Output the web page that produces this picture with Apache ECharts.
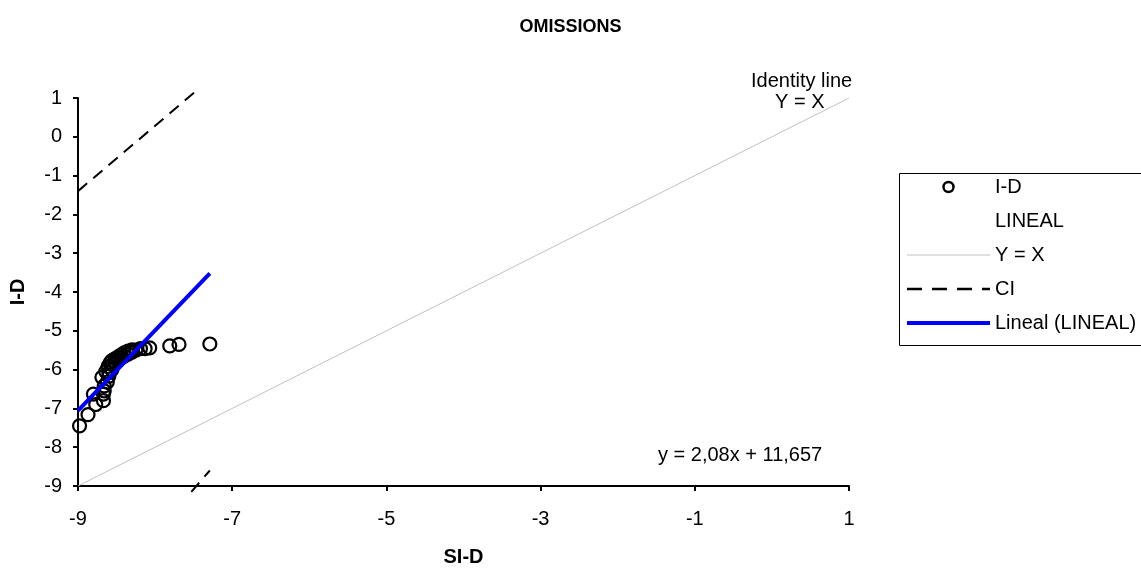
<!DOCTYPE html>
<html>
<head>
<meta charset="utf-8">
<script src="https://cdn.jsdelivr.net/npm/echarts@6/dist/echarts.min.js"></script>
<style>
html,body{margin:0;padding:0;background:#fff;}
#chart{width:1141px;height:572px;}
</style>
</head>
<body>
<div id="chart"></div>
<script>
// Axis ticks
const xTicks = [-9, -7, -5, -3, -1, 1];
const yTicks = [-9, -8, -7, -6, -5, -4, -3, -2, -1, 0, 1];

// Observed points (SI-D, I-D)
const siD = [-8.98, -8.87, -8.77, -8.80, -8.67, -8.67, -8.66, -8.69, -8.66, -8.62, -8.60, -8.64, -8.60, -8.61, -8.56, -8.58, -8.55, -8.56, -8.52, -8.52, -8.48, -8.48, -8.44, -8.44, -8.40, -8.40, -8.35, -8.35, -8.30, -8.30, -8.25, -8.19, -8.13, -8.07, -7.81, -7.69, -7.29];
const iD  = [-7.45, -7.16, -6.90, -6.63, -6.80, -6.63, -6.55, -6.20, -6.42, -6.32, -6.17, -6.05, -6.08, -5.92, -6.00, -5.82, -5.88, -5.77, -5.80, -5.72, -5.75, -5.67, -5.70, -5.62, -5.65, -5.57, -5.60, -5.52, -5.55, -5.49, -5.50, -5.46, -5.46, -5.44, -5.39, -5.35, -5.34];

// Identity line Y = X
const identityX = [-9, 1];
const identityY = [-9, 1];

// Confidence interval lines
const ciUpperX = [-9, -7.48];
const ciUpperY = [-1.40, 1.16];
const ciLowerX = [-7.53, -7.29];
const ciLowerY = [-9.15, -8.60];

// Linear trend line
const trendX = [-9, -7.29];
const trendY = [-7.06, -3.52];

const zip = (a, b) => a.map((v, i) => [v, b[i]]);
const FONT = '"Liberation Sans", Arial, sans-serif';
const noSymbol = {color: 'rgba(0,0,0,0)', borderColor: 'rgba(0,0,0,0)', borderWidth: 0};

const chart = echarts.init(document.getElementById('chart'), null, {renderer: 'canvas'});
chart.setOption({
  animation: false,
  backgroundColor: '#fff',
  title: {
    text: 'OMISSIONS',
    left: 'center',
    top: 13,
    textStyle: {fontFamily: FONT, fontSize: 18, fontWeight: 'bold', color: '#000'}
  },
  grid: {left: 78, top: 98, width: 771, height: 397},
  xAxis: {
    type: 'value', min: -9, max: 1, interval: 2,
    name: 'SI-D', nameLocation: 'middle', nameGap: 61,
    nameTextStyle: {fontFamily: FONT, fontSize: 20, fontWeight: 'bold', color: '#000'},
    axisLine: {show: true, onZero: false, lineStyle: {color: '#000', width: 2}},
    axisTick: {show: true, inside: false, length: 5, lineStyle: {color: '#000', width: 2}},
    axisLabel: {margin: 23, fontFamily: FONT, fontSize: 20, color: '#000',
      formatter: v => xTicks.includes(v) ? String(v) : ''},
    splitLine: {show: false}
  },
  yAxis: {
    type: 'value', min: -9, max: 1, interval: 1,
    name: 'I-D', nameLocation: 'middle', nameGap: 50,
    nameTextStyle: {fontFamily: FONT, fontSize: 20, fontWeight: 'bold', color: '#000'},
    axisLine: {show: true, onZero: false, lineStyle: {color: '#000', width: 2}},
    axisTick: {show: true, inside: false, length: 5, lineStyle: {color: '#000', width: 2}},
    axisLabel: {margin: 16, fontFamily: FONT, fontSize: 20, color: '#000',
      formatter: v => yTicks.includes(v) ? String(v) : ''},
    splitLine: {show: false}
  },
  legend: {
    orient: 'vertical',
    left: 900, top: 172,
    itemWidth: 83, itemHeight: 10, itemGap: 14,
    textStyle: {fontFamily: FONT, fontSize: 20, color: '#000'},
    selectedMode: false,
    data: [
      {name: 'I-D', itemStyle: {color: 'rgba(255,255,255,0)', borderColor: '#000', borderWidth: 2.5}},
      {name: 'LINEAL', itemStyle: noSymbol},
      {name: 'Y = X', itemStyle: noSymbol, lineStyle: {color: '#c0c0c0', width: 1}},
      {name: 'CI', itemStyle: noSymbol, lineStyle: {color: '#000', width: 2.5, type: [15, 10]}},
      {name: 'Lineal (LINEAL)', itemStyle: noSymbol, lineStyle: {color: '#0000ff', width: 4}}
    ]
  },
  graphic: [
    {type: 'rect', left: 897, top: 171, shape: {width: 260, height: 172},
      style: {fill: 'none', stroke: '#000', lineWidth: 1}, z: 0},
    {type: 'text', left: 751, top: 71, style: {text: 'Identity line', font: '20px ' + FONT, fill: '#000'}},
    {type: 'text', left: 775, top: 92, style: {text: 'Y = X', font: '20px ' + FONT, fill: '#000'}},
    {type: 'text', left: 658, top: 445, style: {text: 'y = 2,08x + 11,657', font: '20px ' + FONT, fill: '#000'}}
  ],
  series: [
    {
      name: 'Y = X', type: 'line', data: zip(identityX, identityY),
      symbol: 'none', lineStyle: {color: '#c0c0c0', width: 1}, itemStyle: {color: '#c0c0c0'}, z: 1
    },
    {
      name: 'CI', type: 'line', data: zip(ciUpperX, ciUpperY), clip: false,
      symbol: 'none', lineStyle: {color: '#000', width: 2, type: [12, 8]}, itemStyle: {color: '#000'}, z: 2
    },
    {
      name: 'CI', type: 'line', data: zip(ciLowerX, ciLowerY), clip: false,
      symbol: 'none', lineStyle: {color: '#000', width: 2, type: [12, 8]}, itemStyle: {color: '#000'}, z: 2
    },
    {
      name: 'I-D', type: 'scatter', data: zip(siD, iD),
      symbol: 'circle', symbolSize: 13,
      itemStyle: {color: 'rgba(255,255,255,0)', borderColor: '#000', borderWidth: 2.2, opacity: 1}, z: 3
    },
    {
      name: 'LINEAL', type: 'scatter', data: [],
      itemStyle: noSymbol
    },
    {
      name: 'Lineal (LINEAL)', type: 'line', data: zip(trendX, trendY),
      symbol: 'none', lineStyle: {color: '#0000ff', width: 4}, itemStyle: {color: '#0000ff'}, z: 4
    }
  ]
});
</script>
</body>
</html>
